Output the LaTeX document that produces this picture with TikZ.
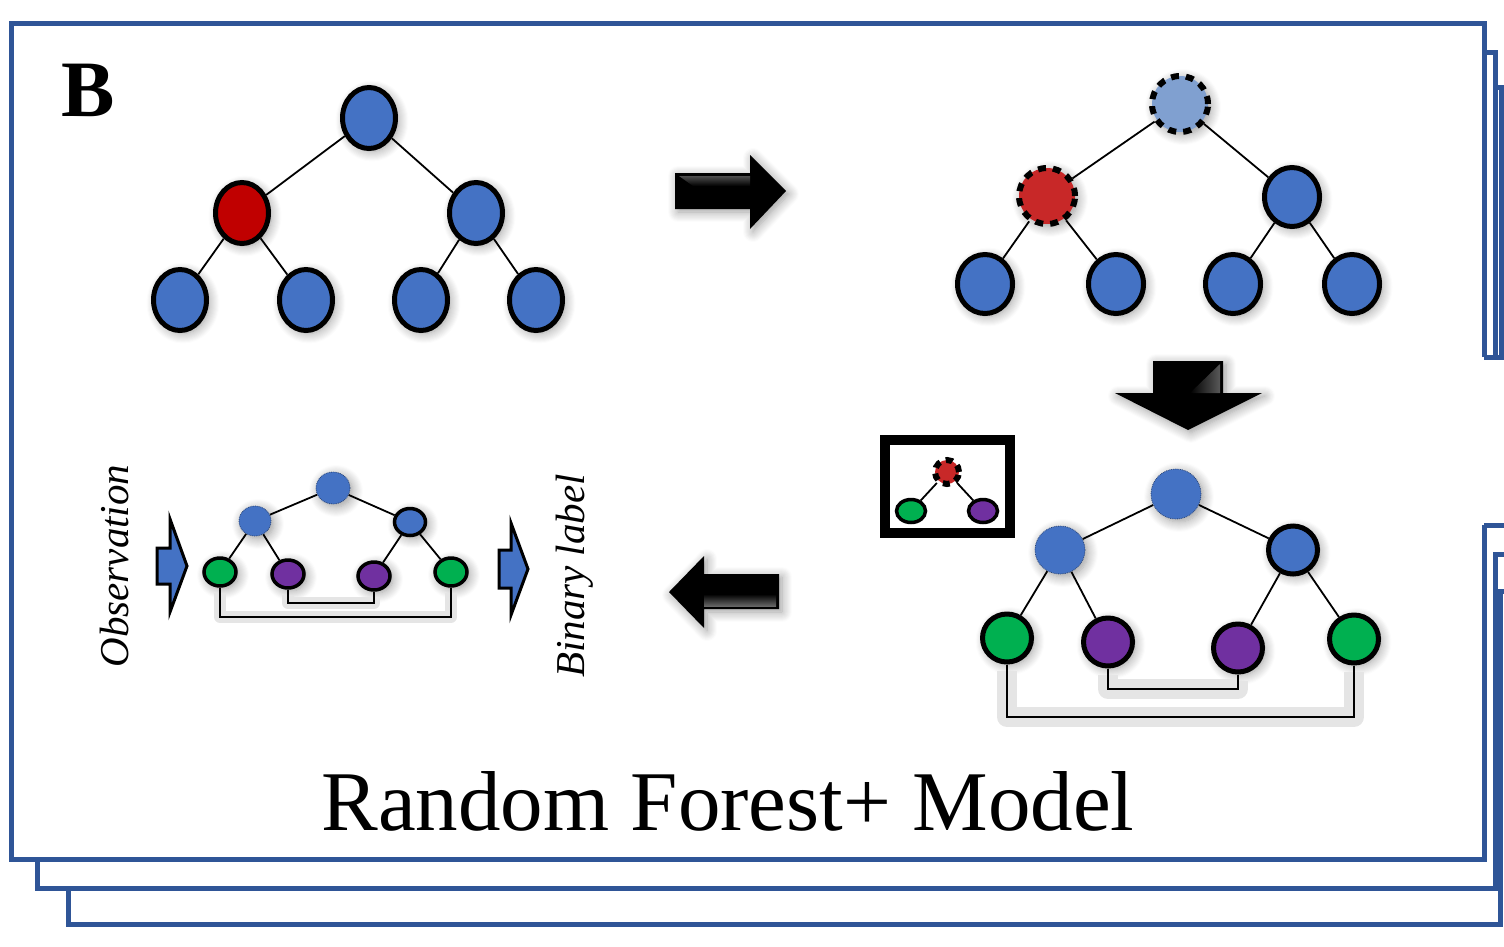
\documentclass[tikz,border=0pt]{standalone}
\usepackage{fontspec}
\setmainfont{Liberation Serif}
\usetikzlibrary{shapes.geometric,shadows.blur}

\definecolor{framecol}{RGB}{47,85,151}
\definecolor{nodeblue}{RGB}{68,114,196}
\definecolor{paleblue}{RGB}{128,160,208}
\definecolor{darkred}{RGB}{192,0,0}
\definecolor{splitred}{RGB}{200,40,40}
\definecolor{leafgreen}{RGB}{0,176,80}
\definecolor{leafpurple}{RGB}{112,48,160}

\tikzset{
  boxline/.style={draw=framecol,line width=5pt},
  softshadow/.style={blur shadow={shadow xshift=3pt,shadow yshift=-3pt,shadow blur radius=10pt,shadow opacity=40,shadow blur steps=10}},
  treenode/.style={ellipse,draw=black,line width=5pt,fill=nodeblue,minimum width=53pt,minimum height=61pt,inner sep=0pt,softshadow},
  splitnode/.style={circle,draw=black,line width=6pt,dash pattern=on 8pt off 7pt,minimum size=56pt,inner sep=0pt,softshadow},
  softnode/.style={ellipse,draw=nodeblue!60!black,densely dotted,line width=0.8pt,fill=nodeblue,inner sep=0pt,softshadow},
  leafnode/.style={ellipse,draw=black,line width=5pt,minimum width=49pt,minimum height=48pt,inner sep=0pt,softshadow},
  minileaf/.style={ellipse,draw=black,line width=3.5pt,minimum width=32pt,minimum height=28pt,inner sep=0pt,softshadow},
  link/.style={draw=black,line width=1.8pt},
  haze/.style={draw=black!10,line width=20pt,line join=round},
  bigarrow/.style={fill=black,softshadow},
  bluearrow/.style={fill=nodeblue,draw=black,line width=3pt,line join=miter},
  label/.style={font=\fontsize{41}{45}\selectfont\itshape,rotate=90,inner sep=0pt}
}

\begin{document}
\begin{tikzpicture}[x=1pt,y=-1pt]
\useasboundingbox (0,0) rectangle (1504,946);

% stacked frames
\draw[boxline] (68,888) -- (68,924) -- (1500,924) -- (1500,591) -- (1504,591);
\draw[boxline] (1495,87) -- (1501,87) -- (1501,357);
\draw[boxline] (37,859) -- (37,888) -- (1495,888) -- (1495,554) -- (1504,554);
\draw[boxline] (1484,52) -- (1495,52) -- (1495,357);
\draw[boxline] (1484,357) -- (1484,23) -- (11,23) -- (11,859) -- (1484,859) -- (1484,525);
\draw[boxline] (1484,357) -- (1504,357);
\draw[boxline] (1484,525) -- (1504,525);

\node[font=\fontsize{80}{84}\selectfont\bfseries,inner sep=0pt] (panel) at (88,90) {B};

% first tree
\node[treenode] (ta) at (369,118) {};
\node[treenode,fill=darkred] (tb) at (242,213) {};
\node[treenode] (tc) at (476,213) {};
\node[treenode] (td) at (180,300) {};
\node[treenode] (te) at (306,300) {};
\node[treenode] (tf) at (421,300) {};
\node[treenode] (tg) at (536,300) {};
\draw[link] (ta) -- (tb) (ta) -- (tc) (tb) -- (td) (tb) -- (te) (tc) -- (tf) (tc) -- (tg);

\fill[bigarrow] (675,173) -- (750,173) -- (750,155) -- (786,191) -- (750,229) -- (750,209) -- (675,209) -- cycle;
\shade[top color=black!70,bottom color=black] (679,176) -- (750,176) -- (750,186) -- (693,186) -- cycle;

% second tree
\node[splitnode,fill=paleblue] (ua) at (1180,104) {};
\node[splitnode,fill=splitred] (ub) at (1047,196) {};
\node[treenode,minimum width=55pt,minimum height=59pt] (uc) at (1292,197) {};
\node[treenode,minimum width=55pt,minimum height=59pt] (ud) at (985,284) {};
\node[treenode,minimum width=55pt,minimum height=59pt] (ue) at (1116,284) {};
\node[treenode,minimum width=55pt,minimum height=59pt] (uf) at (1233,284) {};
\node[treenode,minimum width=55pt,minimum height=59pt] (ug) at (1352,284) {};
\draw[link] (ua) -- (ub) (ua) -- (uc) (ub) -- (ud) (ub) -- (ue) (uc) -- (uf) (uc) -- (ug);

\fill[bigarrow] (1153,361) -- (1223,361) -- (1223,393) -- (1262,393) -- (1188,430) -- (1115,393) -- (1153,393) -- cycle;
\shade[left color=black,right color=black!65] (1190,393) -- (1220,364) -- (1220,393) -- cycle;

% inset
\draw[line width=10pt,fill=white] (885,440) rectangle (1010,533);
\node[circle,draw=black,line width=6pt,dash pattern=on 7pt off 6pt,fill=splitred,minimum size=24pt,inner sep=0pt] (xa) at (947,472) {};
\node[ellipse,draw=black,line width=3.5pt,fill=leafgreen,minimum width=29pt,minimum height=23pt,inner sep=0pt] (xb) at (911,511) {};
\node[ellipse,draw=black,line width=3.5pt,fill=leafpurple,minimum width=29pt,minimum height=23pt,inner sep=0pt] (xc) at (983,511) {};
\draw[link] (xa) -- (xb) (xa) -- (xc);

% third tree
\coordinate (vlow) at (0,717);
\coordinate (vmid) at (0,689);
\node[softnode,minimum width=50pt,minimum height=50pt] (va) at (1176,494) {};
\node[softnode,minimum width=50pt,minimum height=48pt] (vb) at (1060,550) {};
\node[leafnode,fill=nodeblue] (vc) at (1293,550) {};
\node[leafnode,fill=leafgreen] (vd) at (1007,638) {};
\node[leafnode,fill=leafpurple] (ve) at (1108,642) {};
\node[leafnode,fill=leafpurple] (vf) at (1238,648) {};
\node[leafnode,fill=leafgreen] (vg) at (1354,639) {};
\draw[link] (va) -- (vb) (va) -- (vc) (vb) -- (vd) (vb) -- (ve) (vc) -- (vf) (vc) -- (vg);
\draw[haze] ([yshift=-6pt]vd.south) -- (vd.south |- vlow) -| ([yshift=-6pt]vg.south);
\draw[haze] ([yshift=-6pt]ve.south) -- (ve.south |- vmid) -| ([yshift=-6pt]vf.south);
\draw[link] (vd.south) -- (vd.south |- vlow) -| (vg.south);
\draw[link] (ve.south) -- (ve.south |- vmid) -| (vf.south);

\fill[bigarrow] (779,574) -- (704,574) -- (704,556) -- (669,592) -- (704,628) -- (704,609) -- (779,609) -- cycle;
\shade[top color=black,bottom color=black!60] (704,594) -- (776,594) -- (776,606) -- (704,606) -- cycle;

% final model
\coordinate (wlow) at (0,617);
\coordinate (wmid) at (0,603);
\node[softnode,minimum width=34pt,minimum height=32pt] (wa) at (333,488) {};
\node[softnode,minimum width=32pt,minimum height=30pt] (wb) at (255,521) {};
\node[minileaf,fill=nodeblue,minimum width=31pt,minimum height=27pt] (wc) at (410,522) {};
\node[minileaf,fill=leafgreen] (wd) at (220,572) {};
\node[minileaf,fill=leafpurple] (we) at (288,574) {};
\node[minileaf,fill=leafpurple] (wf) at (374,576) {};
\node[minileaf,fill=leafgreen] (wg) at (451,572) {};
\draw[link] (wa) -- (wb) (wa) -- (wc) (wb) -- (wd) (wb) -- (we) (wc) -- (wf) (wc) -- (wg);
\draw[haze,line width=12pt] ([yshift=-5pt]wd.south) -- (wd.south |- wlow) -| ([yshift=-5pt]wg.south);
\draw[haze,line width=12pt] ([yshift=-5pt]we.south) -- (we.south |- wmid) -| ([yshift=-5pt]wf.south);
\draw[link] (wd.south) -- (wd.south |- wlow) -| (wg.south);
\draw[link] (we.south) -- (we.south |- wmid) -| (wf.south);

\draw[bluearrow] (157,548) -- (170,548) -- (170,519) -- (187,566) -- (170,612) -- (170,584) -- (157,584) -- cycle;
\draw[bluearrow] (499,550) -- (511,550) -- (511,523) -- (528,569) -- (511,615) -- (511,588) -- (499,588) -- cycle;

\node[label] (obs) at (114,566) {Observation};
\node[label] (bin) at (575,576) {Binary label};

\node[font=\fontsize{85}{90}\selectfont,anchor=base,inner sep=0pt] (title) at (728,830) {Random Forest+ Model};
\end{tikzpicture}
\end{document}
